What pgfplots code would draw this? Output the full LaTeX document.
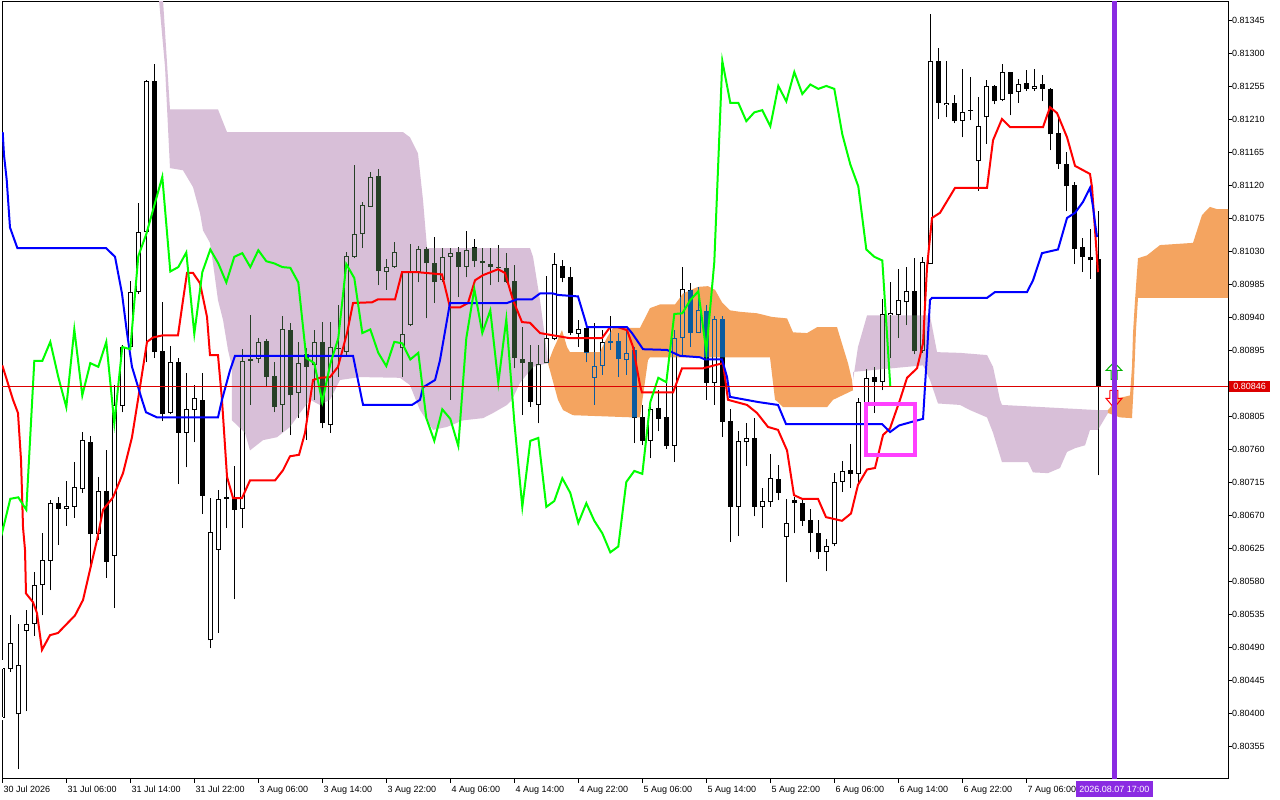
\documentclass[border=0pt]{standalone}
\usepackage{fontspec}
\setmainfont{Liberation Sans}
\usepackage{pgfplots}
\usepackage{pgfplotstable}
\pgfplotsset{compat=1.18}

\definecolor{cloudup}{RGB}{244,164,96}
\definecolor{clouddn}{RGB}{216,191,216}
\definecolor{tenkan}{RGB}{255,0,0}
\definecolor{kijun}{RGB}{0,0,255}
\definecolor{chikou}{RGB}{0,255,0}
\definecolor{vline}{RGB}{138,43,226}
\definecolor{boxpink}{RGB}{255,64,255}
\definecolor{bidred}{RGB}{220,0,0}

% H1 bars: x o h l c
\pgfplotstableread{
x o h l c
0 0.80394 0.80473 0.80391 0.80462
1 0.80461 0.80534 0.80457 0.80496
2 0.80399 0.80522 0.80324 0.80466
3 0.80513 0.80541 0.80403 0.80522
4 0.80522 0.80593 0.80506 0.80575
5 0.80575 0.80646 0.80534 0.80609
6 0.80608 0.80691 0.80568 0.80687
7 0.80687 0.80695 0.80630 0.80679
8 0.80679 0.80717 0.80656 0.80683
9 0.80682 0.80743 0.80667 0.80709
10 0.80706 0.80784 0.80701 0.80773
11 0.80770 0.80778 0.80600 0.80645
12 0.80645 0.80723 0.80637 0.80703
13 0.80703 0.80759 0.80585 0.80607
14 0.80615 0.80848 0.80544 0.80821
15 0.80819 0.80903 0.80811 0.80900
16 0.80900 0.80990 0.80898 0.80975
17 0.80975 0.81096 0.80972 0.81057
18 0.81057 0.81264 0.80879 0.81263
19 0.81263 0.81286 0.80885 0.80893
20 0.80894 0.80961 0.80799 0.80808
21 0.80810 0.80901 0.80808 0.80879
22 0.80879 0.80885 0.80713 0.80783
23 0.80783 0.80864 0.80736 0.80815
24 0.80814 0.80848 0.80770 0.80830
25 0.80828 0.80864 0.80672 0.80697
26 0.80500 0.80694 0.80489 0.80648
27 0.80623 0.80705 0.80510 0.80693
28 0.80693 0.80723 0.80653 0.80695
29 0.80695 0.80738 0.80556 0.80678
30 0.80679 0.80897 0.80653 0.80881
31 0.80883 0.80943 0.80821 0.80881
32 0.80883 0.80912 0.80878 0.80907
33 0.80908 0.80911 0.80845 0.80859
34 0.80860 0.80879 0.80811 0.80818
35 0.80821 0.80942 0.80784 0.80924
36 0.80923 0.80933 0.80780 0.80834
37 0.80837 0.80907 0.80803 0.80878
38 0.80890 0.80898 0.80773 0.80873
39 0.80875 0.80923 0.80828 0.80907
40 0.80907 0.80934 0.80789 0.80796
41 0.80793 0.80934 0.80783 0.80900
42 0.80898 0.80957 0.80859 0.80897
43 0.80893 0.81029 0.80889 0.81024
44 0.81023 0.81148 0.81021 0.81054
45 0.81054 0.81098 0.81035 0.81093
46 0.81091 0.81138 0.81091 0.81132
47 0.81133 0.81143 0.80984 0.81003
48 0.81002 0.81020 0.80978 0.81009
49 0.81009 0.81043 0.81008 0.81029
50 0.80898 0.81003 0.80859 0.80918
51 0.80930 0.81040 0.80928 0.81002
52 0.81002 0.81038 0.80988 0.81033
53 0.81033 0.81036 0.80939 0.81014
54 0.81014 0.81050 0.80960 0.80988
55 0.80991 0.81035 0.80988 0.81023
56 0.81023 0.81035 0.80828 0.81028
57 0.81029 0.81036 0.80968 0.81009
58 0.81009 0.81058 0.80995 0.81032
59 0.81036 0.81047 0.81009 0.81017
60 0.81017 0.81035 0.80919 0.81014
61 0.81013 0.81035 0.80984 0.81009
62 0.81009 0.81039 0.80988 0.81008
63 0.81008 0.81028 0.80987 0.80988
64 0.80990 0.81012 0.80871 0.80885
65 0.80883 0.80927 0.80807 0.80878
66 0.80879 0.80903 0.80818 0.80825
67 0.80821 0.80903 0.80796 0.80877
68 0.80878 0.80997 0.80878 0.80912
69 0.80911 0.81028 0.80909 0.81013
70 0.81010 0.81018 0.80988 0.80994
71 0.80995 0.81009 0.80916 0.80919
72 0.80918 0.80937 0.80900 0.80924
73 0.80926 0.80930 0.80879 0.80892
74 0.80858 0.80933 0.80821 0.80874
75 0.80874 0.80923 0.80862 0.80907
76 0.80908 0.80942 0.80896 0.80905
77 0.80908 0.80919 0.80859 0.80883
78 0.80882 0.80923 0.80862 0.80892
79 0.80896 0.80900 0.80769 0.80803
80 0.80804 0.80821 0.80766 0.80772
81 0.80772 0.80821 0.80748 0.80815
82 0.80817 0.80841 0.80785 0.80802
83 0.80804 0.80858 0.80761 0.80765
84 0.80765 0.80923 0.80743 0.80912
85 0.80912 0.81009 0.80889 0.80979
86 0.80978 0.80987 0.80900 0.80919
87 0.80919 0.80982 0.80919 0.80950
88 0.80949 0.80957 0.80828 0.80851
89 0.80851 0.80942 0.80821 0.80938
90 0.80938 0.80942 0.80777 0.80798
91 0.80799 0.80815 0.80634 0.80682
92 0.80682 0.80785 0.80642 0.80772
93 0.80770 0.80796 0.80738 0.80776
94 0.80776 0.80803 0.80669 0.80682
95 0.80682 0.80708 0.80653 0.80690
96 0.80688 0.80754 0.80682 0.80721
97 0.80720 0.80739 0.80691 0.80701
98 0.80641 0.80693 0.80579 0.80660
99 0.80691 0.80695 0.80646 0.80687
100 0.80687 0.80691 0.80656 0.80663
101 0.80664 0.80679 0.80620 0.80646
102 0.80646 0.80664 0.80611 0.80620
103 0.80620 0.80638 0.80594 0.80628
104 0.80631 0.80728 0.80628 0.80716
105 0.80716 0.80744 0.80702 0.80731
106 0.80732 0.80768 0.80708 0.80727
107 0.80727 0.80830 0.80712 0.80825
108 0.80823 0.80870 0.80814 0.80858
109 0.80859 0.80873 0.80810 0.80852
110 0.80852 0.80965 0.80841 0.80945
111 0.80943 0.80988 0.80885 0.80946
112 0.80943 0.81006 0.80912 0.80964
113 0.80961 0.81009 0.80930 0.80976
114 0.80976 0.81021 0.80890 0.80894
115 0.80894 0.81023 0.80892 0.81016
116 0.81013 0.81354 0.81013 0.81290
117 0.81290 0.81308 0.81211 0.81233
118 0.81230 0.81290 0.81213 0.81233
119 0.81233 0.81243 0.81205 0.81208
120 0.81208 0.81279 0.81186 0.81220
121 0.81222 0.81268 0.81209 0.81223
122 0.81153 0.81241 0.81113 0.81201
123 0.81213 0.81264 0.81177 0.81256
124 0.81256 0.81257 0.81231 0.81235
125 0.81237 0.81286 0.81235 0.81275
126 0.81275 0.81275 0.81216 0.81245
127 0.81248 0.81265 0.81233 0.81258
128 0.81260 0.81278 0.81249 0.81252
129 0.81252 0.81279 0.81249 0.81256
130 0.81258 0.81271 0.81235 0.81252
131 0.81252 0.81253 0.81168 0.81190
132 0.81192 0.81212 0.81143 0.81149
133 0.81149 0.81166 0.81085 0.81119
134 0.81121 0.81125 0.81013 0.81033
135 0.81036 0.81048 0.81002 0.81023
136 0.81023 0.81061 0.80993 0.81018
137 0.81020 0.81085 0.80725 0.80846
}\candles

% Tenkan-sen
\pgfplotstableread{
b p
0 0.80875
1.34 0.80828
1.96 0.80810
2.34 0.80746
2.59 0.80654
2.84 0.80623
2.96 0.80564
3.84 0.80552
4.34 0.80537
4.96 0.80487
5.96 0.80507
6.96 0.80510
9.09 0.80534
10.09 0.80555
10.96 0.80596
11.84 0.80637
12.59 0.80678
13.84 0.80695
15.09 0.80728
16.21 0.80777
16.96 0.80828
18.09 0.80907
18.84 0.80913
20.09 0.80916
21.96 0.80916
22.59 0.80964
23.09 0.81001
23.84 0.81001
24.71 0.80987
25.59 0.80941
25.96 0.80889
26.96 0.80889
27.46 0.80828
28.09 0.80723
28.84 0.80694
29.96 0.80694
30.96 0.80718
34.09 0.80718
35.09 0.80732
35.96 0.80751
37.09 0.80753
37.84 0.80783
38.84 0.80855
39.71 0.80858
40.96 0.80859
41.96 0.80873
43.09 0.80919
43.84 0.80960
46.21 0.80961
46.96 0.80965
49.09 0.80965
49.96 0.81002
51.96 0.81002
54.96 0.80999
55.96 0.80954
57.21 0.80954
58.21 0.80960
59.09 0.80991
60.09 0.80998
61.96 0.81006
62.84 0.81001
63.84 0.80964
64.96 0.80934
65.96 0.80933
67.21 0.80919
70.96 0.80912
74.96 0.80912
75.96 0.80927
76.96 0.80927
78.09 0.80923
78.84 0.80900
79.71 0.80848
79.96 0.80838
83.84 0.80838
84.96 0.80871
87.59 0.80871
90.09 0.80878
90.71 0.80828
93.09 0.80821
94.34 0.80810
95.71 0.80791
96.96 0.80787
98.09 0.80759
98.96 0.80698
99.96 0.80693
101.96 0.80693
102.96 0.80668
104.96 0.80663
106.09 0.80673
106.96 0.80712
108.09 0.80733
109.09 0.80735
110.09 0.80780
110.96 0.80789
112.21 0.80828
113.09 0.80858
114.34 0.80871
115.09 0.80905
115.59 0.81009
116.21 0.81076
117.21 0.81083
119.09 0.81117
123.09 0.81117
123.84 0.81182
124.96 0.81211
125.96 0.81200
130.09 0.81200
130.96 0.81227
131.84 0.81219
133.09 0.81186
134.09 0.81147
135.96 0.81136
136.21 0.81118
136.96 0.81002
}\tenkan

% Kijun-sen
\pgfplotstableread{
b p
0.05 0.81193
0.21 0.81162
0.55 0.81128
0.96 0.81063
1.88 0.81035
12.96 0.81035
14.09 0.81023
14.96 0.80973
15.59 0.80919
16.21 0.80873
17.46 0.80828
17.96 0.80811
19.34 0.80804
26.96 0.80804
27.46 0.80828
28.46 0.80868
29.09 0.80888
43.84 0.80888
44.96 0.80828
45.10 0.80821
51.21 0.80821
52.21 0.80828
52.59 0.80845
54.09 0.80855
54.71 0.80882
55.59 0.80937
55.96 0.80960
63.09 0.80960
64.34 0.80965
66.21 0.80965
67.21 0.80973
68.84 0.80973
69.46 0.80971
71.96 0.80969
72.84 0.80937
73.09 0.80927
78.09 0.80927
78.71 0.80919
80.09 0.80897
83.09 0.80896
84.71 0.80888
87.21 0.80886
87.84 0.80883
89.96 0.80883
90.59 0.80859
90.96 0.80832
94.46 0.80825
96.96 0.80821
97.96 0.80795
109.96 0.80795
110.96 0.80784
112.09 0.80793
113.71 0.80798
115.09 0.80802
115.59 0.80892
115.96 0.80964
116.21 0.80967
123.09 0.80967
124.09 0.80975
128.09 0.80975
128.84 0.80991
129.96 0.81028
131.96 0.81033
133.09 0.81076
134.09 0.81083
135.09 0.81098
135.96 0.81117
136.34 0.81091
136.59 0.81069
136.84 0.81050
}\kijun

% cloud pieces (outline: upper edge left to right, lower edge back)
\pgfplotstableread{
b p
19.59 0.81455
20.09 0.81373
20.96 0.81224
26.96 0.81224
28.09 0.81193
50.09 0.81193
50.96 0.81186
51.96 0.81164
52.59 0.81100
53.09 0.81035
65.96 0.81035
66.34 0.81023
67.21 0.80964
68.09 0.80892
68.21 0.80878
66.34 0.80873
64.71 0.80851
63.71 0.80828
63.09 0.80821
61.34 0.80810
60.09 0.80803
57.59 0.80800
55.59 0.80791
53.84 0.80787
52.21 0.80814
50.96 0.80848
49.71 0.80858
44.71 0.80859
42.21 0.80855
40.96 0.80828
39.71 0.80821
38.46 0.80828
37.21 0.80810
35.96 0.80791
34.34 0.80777
32.59 0.80773
30.96 0.80759
30.34 0.80783
28.71 0.80800
28.71 0.80873
28.21 0.80896
27.59 0.80937
26.96 0.80964
26.34 0.81014
25.96 0.81042
25.09 0.81059
24.71 0.81083
23.84 0.81118
22.59 0.81141
20.96 0.81144
20.34 0.81282
19.59 0.81373
}\cloudA

\pgfplotstableread{
b p
68.21 0.80878
68.84 0.80896
69.96 0.80923
70.59 0.80900
70.96 0.80893
74.71 0.80893
75.59 0.80913
76.34 0.80926
79.71 0.80926
80.96 0.80953
82.21 0.80958
84.09 0.80958
85.09 0.80973
86.96 0.80982
88.21 0.80983
89.09 0.80978
89.96 0.80961
90.96 0.80950
92.21 0.80948
94.34 0.80946
96.21 0.80941
98.09 0.80939
98.84 0.80920
100.59 0.80919
101.84 0.80927
104.34 0.80927
105.09 0.80900
105.71 0.80878
106.21 0.80855
106.34 0.80841
103.84 0.80828
103.09 0.80818
97.59 0.80818
96.96 0.80825
96.59 0.80828
95.96 0.80886
80.96 0.80886
80.71 0.80882
79.71 0.80804
78.84 0.80804
71.34 0.80807
70.09 0.80814
69.46 0.80828
68.21 0.80878
}\cloudB

\pgfplotstableread{
b p
106.34 0.80855
106.96 0.80900
108.09 0.80943
115.96 0.80943
116.84 0.80893
119.71 0.80892
123.09 0.80889
123.84 0.80873
124.71 0.80828
124.96 0.80821
136.84 0.80814
138.21 0.80814
138.21 0.80810
136.96 0.80787
135.96 0.80787
135.34 0.80766
134.09 0.80762
133.09 0.80757
132.21 0.80735
130.71 0.80728
128.84 0.80729
128.21 0.80743
124.96 0.80743
123.84 0.80783
123.09 0.80804
120.96 0.80814
119.71 0.80821
116.96 0.80823
115.96 0.80855
115.09 0.80875
106.34 0.80866
}\cloudC

\pgfplotstableread{
b p
138.21 0.80814
139.46 0.80830
140.96 0.80834
141.21 0.80873
141.34 0.80919
141.59 0.80964
141.96 0.81021
143.09 0.81025
144.71 0.81039
148.84 0.81042
149.34 0.81059
149.96 0.81080
150.96 0.81091
151.84 0.81088
153.46 0.81088
153.46 0.80967
141.96 0.80967
141.71 0.80923
141.46 0.80855
141.21 0.80803
139.71 0.80804
138.21 0.80810
}\cloudD

\pgfplotsset{
  candle/.style={draw=none, mark=none, blend mode=difference,
    error bars/y dir=plus, error bars/y explicit, error bars/error mark=none,
    error bars/error bar style={draw=white, solid, line cap=butt, blend mode=difference}},
}

\begin{document}
\begin{tikzpicture}
\path[fill=white,use as bounding box] (-2pt,-21pt) rectangle (1278pt,779pt);
\begin{axis}[
  name=ch, at={(0pt,0pt)}, anchor=south west,
  scale only axis, width=1226pt, height=777pt,
  xmin=-0.0375, xmax=153.2125,
  ymin=0.803109, ymax=0.813705,
  axis line style={black, line width=1pt},
  tick style={black, line width=1pt},
  tick align=outside, major tick length=4pt,
  xtick pos=bottom, ytick pos=right, yticklabel pos=right,
  scaled y ticks=false,
  xtick={0,8,...,128},
  xticklabels={30 Jul 2026, 31 Jul 06:00, 31 Jul 14:00, 31 Jul 22:00, 3 Aug 06:00, 3 Aug 14:00, 3 Aug 22:00, 4 Aug 06:00, 4 Aug 14:00, 4 Aug 22:00, 5 Aug 06:00, 5 Aug 14:00, 5 Aug 22:00, 6 Aug 06:00, 6 Aug 14:00, 6 Aug 22:00, 7 Aug 06:00},
  ytick={0.80355,0.80400,0.80445,0.80490,0.80535,0.80580,0.80625,0.80670,0.80715,0.80760,0.80805,0.80850,0.80895,0.80940,0.80985,0.81030,0.81075,0.81120,0.81165,0.81210,0.81255,0.81300,0.81345},
  yticklabels={0.80355,0.80400,0.80445,0.80490,0.80535,0.80580,0.80625,0.80670,0.80715,0.80760,0.80805,{},0.80895,0.80940,0.80985,0.81030,0.81075,0.81120,0.81165,0.81210,0.81255,0.81300,0.81345},
  every tick label/.append style={font=\fontsize{9}{10}\selectfont},
  xticklabel style={anchor=north west, inner sep=0pt, xshift=1pt, yshift=-3pt},
  yticklabel style={anchor=west, inner sep=0pt},
]
% cloud
\addplot[fill=clouddn, draw=none] table {\cloudA};
\addplot[fill=cloudup, draw=none] table {\cloudB};
\addplot[fill=clouddn, draw=none] table {\cloudC};
\addplot[fill=cloudup, draw=none] table {\cloudD};

% candles: drawn inverted over the cloud
\addplot[candle, error bars/error bar style={line width=1pt}]
  table[x=x, y expr={max(\thisrow{o},\thisrow{c})}, y error expr={\thisrow{h}-max(\thisrow{o},\thisrow{c})}] {\candles};
\addplot[candle, error bars/error bar style={line width=1pt}]
  table[x=x, y=l, y error expr={min(\thisrow{o},\thisrow{c})-\thisrow{l}}] {\candles};
\addplot[candle, error bars/error bar style={line width=5pt}]
  table[x=x, y expr={min(\thisrow{o},\thisrow{c})}, y error expr={max(abs(\thisrow{c}-\thisrow{o}),0.0000136)}] {\candles};
\addplot[candle, error bars/error bar style={line width=3pt}]
  table[x=x, y expr={\thisrow{o}+0.0000136}, y error expr={max(\thisrow{c}-\thisrow{o}-0.0000273,0)}] {\candles};

% lines
\addplot[tenkan, line width=2pt] table {\tenkan};
\addplot[kijun, line width=2pt] table {\kijun};
\addplot[chikou, line width=2pt] table[x expr=\thisrow{x}-26, y=c] {\candles};

\addplot[bidred, line width=1pt] coordinates {(-1,0.80846) (160,0.80846)};
\addplot[boxpink, line width=4pt, line join=miter] coordinates {(108,0.808227) (114.05,0.808227) (114.05,0.807532) (108,0.807532) (108,0.808227) (114.05,0.808227)};
\addplot[green!70!black, line width=1pt] coordinates {(138.96,0.80879) (139.96,0.80868) (139.34,0.80868) (139.34,0.80856) (138.59,0.80856) (138.59,0.80868) (137.96,0.80868) (138.96,0.80879)};
\addplot[red, line width=1pt] coordinates {(138.46,0.80841) (139.46,0.80841) (139.46,0.80830) (139.96,0.80830) (138.96,0.80817) (137.96,0.80830) (138.46,0.80830) (138.46,0.80841)};
\addplot[vline, line width=5pt] coordinates {(139,0.8030) (139,0.8140)};

\coordinate (bid) at (axis cs:153.2125,0.80846);
\coordinate (vl) at (axis cs:139,0.803109);
\end{axis}
\node[fill=bidred, text=white, inner sep=0pt, minimum width=41pt, minimum height=11pt, anchor=west, font=\fontsize{9}{10}\selectfont] at ([xshift=1pt]bid) {0.80846};
\node[fill=vline, text=white, inner sep=0pt, minimum width=77pt, minimum height=16pt, anchor=north, font=\fontsize{9}{10}\selectfont] at ([yshift=-2pt]vl) {2026.08.07 17:00};
\end{tikzpicture}
\end{document}
